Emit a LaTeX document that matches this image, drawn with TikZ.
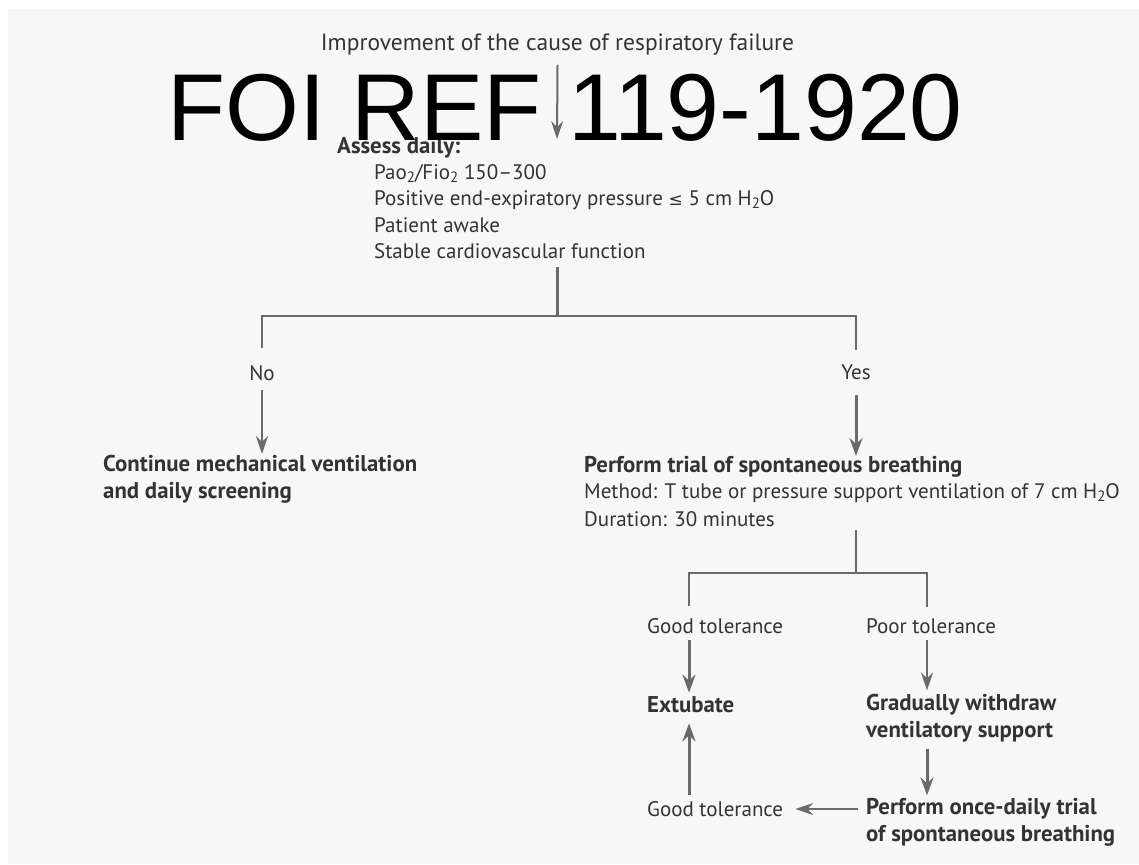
\documentclass[tikz,border=0pt]{standalone}
\usepackage{fontspec}
\setmainfont{PT Sans}
\newfontfamily\wmfont{Liberation Sans}
\newfontfamily\symfont{DejaVu Sans}
\usetikzlibrary{arrows.meta}
\definecolor{bgc}{HTML}{F7F7F7}
\definecolor{txt}{HTML}{333333}
\definecolor{lnc}{HTML}{6A6A6A}
\newcommand\lowsub[1]{\raisebox{-0.3ex}{\fontsize{15}{15}\selectfont #1}}
\begin{document}
\begin{tikzpicture}[x=1pt,y=-1pt,
  lbl/.style={anchor=west,inner sep=0pt,text=txt,align=left,font=\fontsize{21}{26.5}\selectfont},
  blbl/.style={lbl,font=\fontsize{22.8}{26.8}\selectfont\bfseries},
  ln/.style={draw=lnc,line width=2pt},
  lnthick/.style={draw=lnc,line width=3pt},
  arr/.style={ln,-{Stealth[length=18pt,width=12pt,inset=6pt]}},
  arrthick/.style={lnthick,-{Stealth[length=18pt,width=13pt,inset=6pt]}},
  wm/.style={anchor=base west,inner sep=0pt,text=black,font=\wmfont\fontsize{95}{95}\selectfont}]
\useasboundingbox (0,0) rectangle (1139,864);
\fill[white] (0,0) rectangle (1139,864);
\fill[bgc] (8,9) rectangle (1139,864);

% texts
\node[lbl,anchor=center,font=\fontsize{23.5}{26.5}\selectfont] (improve) at (557.5,45) {Improvement of the cause of respiratory failure};
\node[blbl] (assess) at (337,148) {Assess daily:};
\node[lbl] (criteria) at (374,211.5) {Pao\lowsub{2}/Fio\lowsub{2} 150--300\\
Positive end-expiratory pressure {\symfont\fontsize{17}{17}\selectfont ≤} 5 cm H\lowsub{2}O\\
Patient awake\\
Stable cardiovascular function};
\node[lbl,anchor=center] (no) at (262,373) {No};
\node[lbl,anchor=center] (yes) at (856,372) {Yes};
\node[blbl] (cont) at (103,479.5) {Continue mechanical ventilation\\and daily screening};
\node[blbl] (trial) at (584,467) {Perform trial of spontaneous breathing};
\node[lbl] (method) at (584,493) {Method: T tube or pressure support ventilation of 7 cm H\lowsub{2}O};
\node[lbl] (duration) at (584,519) {Duration: 30 minutes};
\node[lbl] (gt1) at (647,626) {Good tolerance};
\node[lbl] (pt1) at (866,626) {Poor tolerance};
\node[blbl] (extubate) at (647,705) {Extubate};
\node[blbl] (withdraw) at (866,718.5) {Gradually withdraw\\ventilatory support};
\node[lbl] (gt2) at (647,809) {Good tolerance};
\node[blbl] (once) at (866,822.5) {Perform once-daily trial\\of spontaneous breathing};

% junction coordinates
\coordinate (a1end) at (557,139);
\coordinate (s1top) at (557,267);
\coordinate (split1) at (557,316);
\coordinate (noTop) at (262,348);
\coordinate (yesTop) at (856,350);
\coordinate (noArr) at (262,390);
\coordinate (contTop) at (262,454);
\coordinate (yesArr) at (856,395);
\coordinate (trialTop) at (856,456);
\coordinate (t2) at (856,530);
\coordinate (split2) at (856,573);
\coordinate (gTop) at (689,606);
\coordinate (pTop) at (927,607);
\coordinate (cL) at (689,0);
\coordinate (cR) at (927,0);

% connectors
\draw[arr] ([yshift=-9pt]improve.south) -- (a1end);
\draw[lnthick] (s1top) -- (split1);
\draw[ln] (noTop) |- (split1) -| (yesTop);
\draw[arr] (noArr) -- (contTop);
\draw[arrthick] (yesArr) -- (trialTop);
\draw[ln] (t2) -- (split2);
\draw[ln] (gTop) |- (split2) -| (pTop);
\draw[arrthick] ([yshift=-6pt]gt1.south -| cL) -- ([yshift=4pt]extubate.north -| cL);
\draw[arr] ([yshift=-6pt]pt1.south -| cR) -- ([yshift=4pt]withdraw.north -| cR);
\draw[arrthick] ([yshift=-6pt]withdraw.south -| cR) -- ([yshift=3pt]once.north -| cR);
\draw[arrthick] ([yshift=6pt]gt2.north -| cL) -- ([yshift=-10pt]extubate.south -| cL);
\draw[arr] ([xshift=-8pt]once.west |- gt2) -- ([xshift=12pt]gt2.east);

% watermark
\node[wm] (wmark) at (167,140) {FOI REF 119-1920};
\end{tikzpicture}
\end{document}
